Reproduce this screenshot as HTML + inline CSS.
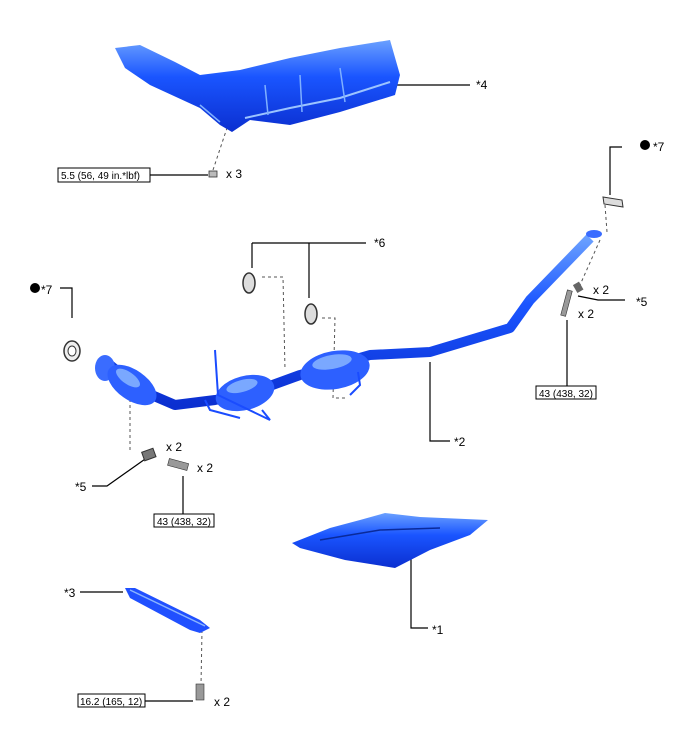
<!DOCTYPE html>
<html><head><style>
body{margin:0;background:#fff;}
svg{display:block;font-family:"Liberation Sans",sans-serif;}
text{font-size:12px;fill:#000;}
.b{font-size:10px;}
</style></head><body>
<svg width="688" height="755" viewBox="0 0 688 755">
<defs>
<linearGradient id="g" x1="0" y1="0" x2="0" y2="1">
<stop offset="0" stop-color="#6aa0ff"/><stop offset="0.4" stop-color="#1a55ff"/><stop offset="1" stop-color="#0b2fd0"/>
</linearGradient>
</defs>
<g stroke="#000" stroke-width="1.2" fill="none">
<line x1="395" y1="85" x2="470" y2="85"/>
<line x1="150" y1="175" x2="208" y2="175"/>
<polyline points="622,147 610,147 610,195"/>
<line x1="252" y1="243" x2="366" y2="243"/>
<line x1="252" y1="243" x2="252" y2="268"/>
<line x1="309" y1="243" x2="309" y2="298"/>
<polyline points="60,288 72,288 72,318"/>
<polyline points="430,362 430,441 450,441"/>
<polyline points="578,296 598,300 625,300"/>
<line x1="567" y1="320" x2="567" y2="386"/>
<polyline points="92,486 107,486 148,457"/>
<line x1="183" y1="476" x2="183" y2="514"/>
<polyline points="411,548 411,628 428,628"/>
<line x1="80" y1="592" x2="123" y2="592"/>
<line x1="145" y1="701" x2="193" y2="701"/>
</g>
<g stroke="#555" stroke-width="1" stroke-dasharray="3,3" fill="none">
<line x1="213" y1="170" x2="228" y2="125"/>
<line x1="605" y1="205" x2="607" y2="232"/>
<line x1="600" y1="240" x2="580" y2="285"/>
<polyline points="262,277 283,277 285,370"/>
<polyline points="322,318 335,318 333,398 345,398"/>
<line x1="130" y1="375" x2="130" y2="450"/>
<line x1="202" y1="630" x2="201" y2="685"/>
</g>
<path d="M115,48 L140,45 L175,62 L200,75 L240,70 L290,58 L340,48 L390,40 L400,75 L395,95 L340,112 L290,125 L250,120 L232,132 L220,125 L200,108 L150,85 L125,68 Z" fill="url(#g)"/>
<path d="M245,118 L290,108 L340,98 L390,82" stroke="#9cc4ff" stroke-width="2" fill="none"/>
<path d="M200,105 L220,122 M265,85 L268,115 M300,75 L302,112 M340,68 L345,102" stroke="#7fb0ff" stroke-width="1.5" fill="none"/>
<rect x="209" y="171" width="8" height="6" fill="#bbb" stroke="#333" stroke-width="0.8"/>
<path d="M603,197 L622,200 L623,207 L604,204 Z" fill="#ddd" stroke="#333"/>
<ellipse cx="72" cy="351" rx="8" ry="10" fill="#eee" stroke="#333" stroke-width="1.5"/>
<ellipse cx="72" cy="351" rx="4" ry="5" fill="#fff" stroke="#333"/>
<ellipse cx="249" cy="283" rx="6" ry="10" fill="#ddd" stroke="#333" stroke-width="1.5"/>
<ellipse cx="311" cy="314" rx="6" ry="10" fill="#ddd" stroke="#333" stroke-width="1.5"/>
<path d="M110,365 L140,390 L175,405 L215,400 L245,395 L300,375 L370,355 L430,352 L510,328 L530,300 L590,238" stroke="url(#g)" stroke-width="10" fill="none" stroke-linejoin="round"/>
<ellipse cx="105" cy="368" rx="10" ry="13" fill="#3a6cff"/>
<ellipse cx="132" cy="385" rx="28" ry="15" fill="#2d60ff" transform="rotate(35 132 385)"/>
<ellipse cx="128" cy="378" rx="14" ry="6" fill="#7aa8ff" transform="rotate(35 128 378)"/>
<ellipse cx="245" cy="393" rx="30" ry="17" fill="#2d60ff" transform="rotate(-15 245 393)"/>
<ellipse cx="242" cy="386" rx="16" ry="6" fill="#7aa8ff" transform="rotate(-15 242 386)"/>
<ellipse cx="335" cy="370" rx="35" ry="19" fill="#2d60ff" transform="rotate(-10 335 370)"/>
<ellipse cx="332" cy="362" rx="20" ry="7" fill="#7aa8ff" transform="rotate(-10 332 362)"/>
<path d="M215,350 L218,395 L270,420 L262,410 M205,400 L210,410 L240,418 M350,395 L360,385 L358,372" stroke="#1a4cff" stroke-width="2" fill="none"/>
<ellipse cx="594" cy="234" rx="8" ry="4" fill="#3a6cff"/>
<rect x="575" y="283" width="7" height="9" fill="#666" transform="rotate(-30 578 288)"/>
<rect x="564" y="290" width="5" height="26" fill="#999" stroke="#333" stroke-width="0.6" transform="rotate(15 566 303)"/>
<rect x="143" y="450" width="12" height="9" fill="#777" stroke="#333" transform="rotate(-20 149 455)"/>
<rect x="168" y="461" width="20" height="7" fill="#999" stroke="#333" stroke-width="0.6" transform="rotate(15 178 465)"/>
<rect x="196" y="684" width="8" height="16" fill="#999" stroke="#333" stroke-width="0.6"/>
<path d="M292,543 L330,528 L360,520 L385,513 L420,517 L488,520 L470,535 L430,550 L395,568 L345,560 L300,548 Z" fill="url(#g)"/>
<path d="M320,540 L380,530 L440,528" stroke="#0a2a9a" stroke-width="1.5" fill="none"/>
<path d="M125,588 L135,588 L200,620 L210,628 L200,633 L190,630 L130,598 Z" fill="#2050ff"/>
<path d="M130,590 L205,626" stroke="#8ab4ff" stroke-width="1.5"/>
<text x="476" y="89">*4</text>
<rect x="58" y="168" width="92" height="14" fill="#fff" stroke="#000" stroke-width="1"/>
<text class="b" x="61" y="179">5.5 (56, 49 in.*lbf)</text>
<text x="226" y="178">x 3</text>
<circle cx="645" cy="145" r="5" fill="#000"/>
<text x="653" y="151">*7</text>
<text x="374" y="247">*6</text>
<circle cx="35" cy="288" r="5" fill="#000"/>
<text x="41" y="294">*7</text>
<text x="593" y="294">x 2</text>
<text x="636" y="306">*5</text>
<text x="578" y="318">x 2</text>
<rect x="536" y="386" width="60" height="13" fill="#fff" stroke="#000" stroke-width="1"/>
<text class="b" x="539" y="397">43 (438, 32)</text>
<text x="454" y="446">*2</text>
<text x="166" y="451">x 2</text>
<text x="197" y="472">x 2</text>
<text x="75" y="491">*5</text>
<rect x="154" y="514" width="60" height="13" fill="#fff" stroke="#000" stroke-width="1"/>
<text class="b" x="157" y="525">43 (438, 32)</text>
<text x="432" y="634">*1</text>
<text x="64" y="597">*3</text>
<rect x="78" y="694" width="67" height="13" fill="#fff" stroke="#000" stroke-width="1"/>
<text class="b" x="80" y="705">16.2 (165, 12)</text>
<text x="214" y="706">x 2</text>
</svg>
</body></html>
